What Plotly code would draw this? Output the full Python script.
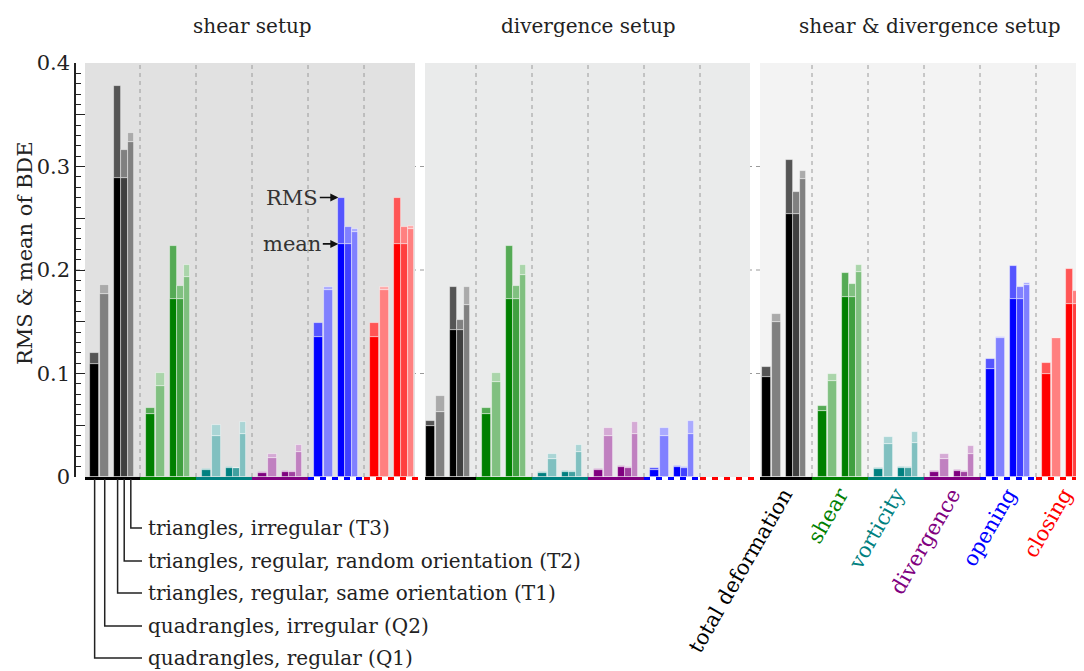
import plotly.graph_objects as go

# ---------------- data ----------------
setups = ["shear setup", "divergence setup", "shear & divergence setup"]
quantities = ["total deformation", "shear", "vorticity", "divergence", "opening", "closing"]
meshes = ["Q1", "Q2", "T1", "T2", "T3"]
mesh_labels = ["quadrangles, regular (Q1)", "quadrangles, irregular (Q2)",
               "triangles, regular, same orientation (T1)",
               "triangles, regular, random orientation (T2)",
               "triangles, irregular (T3)"]
quantity_colors = ["#000000", "#008000", "#008080", "#800080", "#0000ff", "#ff0000"]

# rows: quantities, columns: Q1, Q2, T1, T2, T3
shear_mean = [[0.109, 0.1765, 0.289, 0.289, 0.3233],
              [0.0607, 0.0878, 0.1717, 0.1717, 0.1936],
              [0.007, 0.0394, 0.009, 0.0087, 0.0413],
              [0.0042, 0.0187, 0.0052, 0.0048, 0.0242],
              [0.1349, 0.1807, 0.2252, 0.2252, 0.2368],
              [0.1349, 0.1807, 0.2252, 0.2252, 0.2394]]
shear_rms = [[0.120, 0.1855, 0.3775, 0.316, 0.332],
             [0.0668, 0.1007, 0.2236, 0.1846, 0.2049],
             [0.008, 0.0507, 0.0097, 0.009, 0.0532],
             [0.0048, 0.0226, 0.0058, 0.0055, 0.0307],
             [0.1484, 0.184, 0.270, 0.242, 0.240],
             [0.1484, 0.184, 0.270, 0.242, 0.2427]]
div_mean = [[0.0494, 0.0632, 0.142, 0.142, 0.1659],
            [0.0607, 0.092, 0.1717, 0.1717, 0.195],
            [0.0042, 0.0177, 0.0052, 0.0048, 0.0242],
            [0.0071, 0.0394, 0.0094, 0.009, 0.042],
            [0.0071, 0.0394, 0.0094, 0.009, 0.042],
            [0.0, 0.0, 0.0, 0.0, 0.0]]
div_rms = [[0.0539, 0.0784, 0.184, 0.1517, 0.184],
           [0.0668, 0.1007, 0.2236, 0.1846, 0.2049],
           [0.0048, 0.0226, 0.0058, 0.0055, 0.0307],
           [0.008, 0.0474, 0.0103, 0.0097, 0.0532],
           [0.0084, 0.0474, 0.0103, 0.0097, 0.0539],
           [0.0, 0.0, 0.0, 0.0, 0.0]]
both_mean = [[0.0968, 0.150, 0.2543, 0.2543, 0.288],
             [0.0639, 0.0929, 0.1736, 0.1736, 0.1978],
             [0.0081, 0.0316, 0.009, 0.009, 0.0332],
             [0.0045, 0.0177, 0.0058, 0.0048, 0.0226],
             [0.1039, 0.1339, 0.1717, 0.1717, 0.1855],
             [0.100, 0.1339, 0.1672, 0.1672, 0.1775]]
both_rms = [[0.1065, 0.1575, 0.306, 0.275, 0.296],
            [0.069, 0.100, 0.1968, 0.1865, 0.2052],
            [0.009, 0.0387, 0.0097, 0.0097, 0.0436],
            [0.0058, 0.0226, 0.0071, 0.0055, 0.030],
            [0.1139, 0.1355, 0.2043, 0.184, 0.1878],
            [0.1097, 0.1346, 0.201, 0.180, 0.179]]
y_tick_vals = [0, 0.05, 0.1, 0.15, 0.2, 0.25, 0.3, 0.35, 0.4]
y_tick_text = ["0", "", "0.1", "", "0.2", "", "0.3", "", "0.4"]

means = [shear_mean, div_mean, both_mean]
rmss = [shear_rms, div_rms, both_rms]

# ---------------- style / layout helpers ----------------
FONT = "DejaVu Serif"
PAGE_OFF = 8                      # default body margin of the html page
W, H = 1084 - PAGE_OFF, 671 - PAGE_OFF
SCR_LEFT, SCR_TOP, SCR_BOTTOM, SCR_RIGHT = 76, 63, 477, 1084   # plot area on screen
M_L = SCR_LEFT - PAGE_OFF
M_T = SCR_TOP - PAGE_OFF
M_B = H - (SCR_BOTTOM - PAGE_OFF)
M_R = W - (SCR_RIGHT - PAGE_OFF)
PLOT_H = SCR_BOTTOM - SCR_TOP
PLOT_W = SCR_RIGHT - SCR_LEFT
GROUP_PX = 56.0
X0_PX = 84.0
bar_offset = [0.19, 0.37, 0.60, 0.718, 0.836]
bar_width = [0.17, 0.17, 0.118, 0.118, 0.118]
mean_white = [0.0, 0.5, 0.0, 0.25, 0.5]


def xd(px):
    return (px - X0_PX) / GROUP_PX


def py(px):
    return (SCR_BOTTOM - px) / PLOT_H


def pxp(px):
    return (px - SCR_LEFT) / PLOT_W


def hex_rgb(h):
    h = h.lstrip("#")
    return tuple(int(h[i:i + 2], 16) for i in (0, 2, 4))


def mix(hexc, f):
    r, g, b = hex_rgb(hexc)
    return "rgb(%d,%d,%d)" % tuple(round(c + (255 - c) * f) for c in (r, g, b))


fig = go.Figure()

for m in range(5):
    xs, hm, basem, hr, cm, cr, lw = [], [], [], [], [], [], []
    for p in range(3):
        for q in range(6):
            g = p * 6 + q
            mv = means[p][q][m]
            rv = rmss[p][q][m]
            xs.append(g + bar_offset[m])
            hm.append(mv)
            basem.append(mv)
            hr.append(max(rv - mv, 0))
            f = mean_white[m]
            cm.append(mix(quantity_colors[q], f))
            cr.append(mix(quantity_colors[q], f + (1 - f) / 3.0))
            lw.append(0.8 if rv > 0 else 0)
    fig.add_trace(go.Bar(x=xs, y=hm, base=[0] * len(xs), width=[bar_width[m]] * len(xs),
                         marker=dict(color=cm, line=dict(color="rgba(255,255,255,0.55)", width=lw)),
                         name=meshes[m] + " mean", showlegend=False, hoverinfo="skip"))
    fig.add_trace(go.Bar(x=xs, y=hr, base=basem, width=[bar_width[m]] * len(xs),
                         marker=dict(color=cr, line=dict(color="rgba(255,255,255,0.55)", width=lw)),
                         name=meshes[m] + " RMS", showlegend=False, hoverinfo="skip"))

shapes = []
panel_bg = ["#e1e1e1", "#eaebeb", "#f3f3f3"]
panel_x = [(xd(85), xd(415)), (xd(425), xd(750)), (xd(760), xd(1100))]
for p in range(3):
    shapes.append(dict(type="rect", xref="x", yref="y", x0=panel_x[p][0], x1=panel_x[p][1],
                       y0=0, y1=0.4, fillcolor=panel_bg[p], line=dict(width=0), layer="below"))
# vertical dashed grid between groups
for p in range(3):
    for k in range(1, 6):
        shapes.append(dict(type="line", xref="x", yref="y", x0=p * 6 + k, x1=p * 6 + k,
                           y0=0, y1=0.4, line=dict(color="#9a9a9a", width=1, dash="4px,4px"),
                           layer="below"))
# horizontal dashed grid
for yv in [0.1, 0.2, 0.3]:
    shapes.append(dict(type="line", xref="paper", yref="y", x0=0, x1=1, y0=yv, y1=yv,
                       line=dict(color="#9a9a9a", width=1, dash="4px,4px"), layer="below"))
# coloured base lines under each group
for p in range(3):
    for q in range(6):
        g = p * 6 + q
        x0 = panel_x[p][0] if q == 0 else g
        dash = "6px,6px" if q >= 4 else "solid"
        shapes.append(dict(type="line", xref="x", yref="paper", x0=x0, x1=g + 1,
                           y0=py(478.4), y1=py(478.4),
                           line=dict(color=quantity_colors[q], width=3, dash=dash)))

# connector lines for mesh labels
label_px_y = [658, 626, 593, 561, 528]
annotations = []
for m in range(5):
    xc = bar_offset[m]
    yl = py(label_px_y[m])
    shapes.append(dict(type="path", xref="x", yref="paper",
                       path="M %f,%f L %f,%f L %f,%f" % (xc, py(479), xc, yl, xd(142), yl),
                       line=dict(color="#222222", width=1.5)))
    annotations.append(dict(xref="x", yref="paper", x=xd(146), y=yl, text=mesh_labels[m],
                            showarrow=False, xanchor="left", yanchor="middle",
                            font=dict(family=FONT, size=20, color="#222222")))

# panel titles
title_x = [3.0, 9.0, 15.1]
for p in range(3):
    annotations.append(dict(xref="x", yref="paper", x=title_x[p], y=py(26), text=setups[p],
                            showarrow=False, xanchor="center", yanchor="middle",
                            font=dict(family=FONT, size=20, color="#222222")))

# y title
annotations.append(dict(xref="paper", yref="paper", x=pxp(25), y=py(253),
                        text="RMS & mean of BDE", textangle=-90, showarrow=False,
                        xanchor="center", yanchor="middle",
                        font=dict(family=FONT, size=21, color="#222222")))

# RMS / mean arrows on opening T1 bar of shear setup
op_q = 4
t1_left = op_q + bar_offset[2] - bar_width[2] / 2
annotations.append(dict(xref="x", yref="y", x=t1_left, y=shear_rms[op_q][2], text="RMS",
                        showarrow=True, ax=-46, ay=0, arrowhead=2, arrowsize=1, arrowwidth=1.6,
                        arrowcolor="#111111", standoff=0,
                        font=dict(family=FONT, size=21, color="#333333")))
annotations.append(dict(xref="x", yref="y", x=t1_left, y=shear_mean[op_q][2], text="mean",
                        showarrow=True, ax=-46, ay=0, arrowhead=2, arrowsize=1, arrowwidth=1.6,
                        arrowcolor="#111111", standoff=0,
                        font=dict(family=FONT, size=21, color="#333333")))

tick_text = ["<span style='color:%s'>%s</span>" % (c, t) for c, t in zip(quantity_colors, quantities)]

fig.update_layout(
    width=W, height=H,
    margin=dict(l=M_L, r=M_R, t=M_T, b=M_B, pad=0, autoexpand=False),
    paper_bgcolor="white", plot_bgcolor="rgba(0,0,0,0)",
    barmode="overlay", bargap=0,
    showlegend=False,
    shapes=shapes, annotations=annotations,
    font=dict(family=FONT, size=20, color="#222222"),
    xaxis=dict(range=[xd(SCR_LEFT), xd(SCR_RIGHT)], showgrid=False, zeroline=False, showline=False,
               tickmode="array", tickvals=[12 + q + 0.5 for q in range(6)], ticktext=tick_text,
               tickangle=-60, ticks="", tickfont=dict(family=FONT, size=21), automargin=False),
    yaxis=dict(range=[0, 0.4], showgrid=False, zeroline=False, showline=True, automargin=False,
               linecolor="#222222", linewidth=1.5, ticks="inside", ticklen=9, tickwidth=1.3,
               tickcolor="#222222", tickmode="array", tickvals=y_tick_vals, ticktext=y_tick_text,
               tickfont=dict(family=FONT, size=21, color="#222222"),
               minor=dict(ticks="inside", ticklen=5, tickwidth=1.1, tickcolor="#222222", dtick=0.01)),
)

fig.write_html("out.html")
